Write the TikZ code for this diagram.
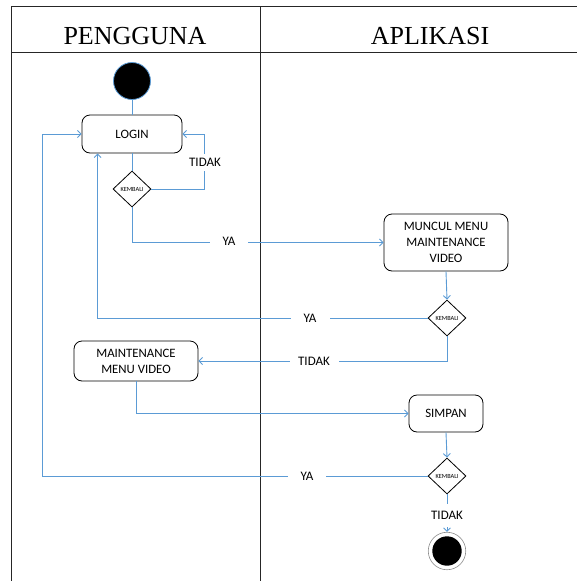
\documentclass[tikz,border=0pt]{standalone}
\usepackage{fontspec}
\setmainfont{Liberation Serif}
\newfontfamily\carlitofont{Carlito}
\usetikzlibrary{shapes.geometric,arrows.meta,calc}
\definecolor{flow}{RGB}{91,155,213}
\tikzset{
  frameline/.style={draw=black!85,line width=0.9pt},
  actbox/.style={draw=black,line width=0.8pt,rounded corners=8pt,align=center,
    font=\carlitofont\fontsize{12.8}{16}\selectfont,inner sep=0pt},
  dia/.style={diamond,draw=black,line width=0.8pt,minimum width=38pt,minimum height=36pt,inner sep=0pt},
  kembali/.style={font=\carlitofont\fontsize{6.3}{7}\selectfont,inner sep=0pt},
  flowline/.style={draw=flow,line width=0.9pt},
  flowarrow/.style={flowline,-{Straight Barb[length=3.5pt,width=7pt]}},
  lbl/.style={fill=white,font=\carlitofont\fontsize{13}{14}\selectfont,inner sep=0pt,minimum height=17pt},
  hdr/.style={font=\fontsize{26}{30}\selectfont,inner sep=0pt}
}
\begin{document}
\begin{tikzpicture}[x=1pt,y=-1pt]
\useasboundingbox (0,0) rectangle (577,581);
% frame
\draw[frameline] (11,6) -- (577,6);
\draw[frameline] (11,52) -- (577,52);
\draw[frameline] (11,6) -- (11,581);
\draw[frameline] (260,6) -- (260,581);
\node[hdr] (h1) at (135,36) {PENGGUNA};
\node[hdr] (h2) at (430,36) {APLIKASI};
% nodes
\node[circle,fill=black,draw=flow,line width=0.8pt,minimum size=37pt,inner sep=0pt] (start) at (132,81) {};
\node[actbox,minimum width=100pt,minimum height=38pt] (login) at (132,134) {LOGIN};
\node[dia] (d1) at (132,189) {};
\node[kembali] (k1) at (d1) {KEMBALI};
\node[actbox,minimum width=124pt,minimum height=57pt] (muncul) at (446,242.5) {MUNCUL MENU\\MAINTENANCE\\VIDEO};
\node[dia] (d2) at (447,318) {};
\node[kembali] (k2) at (d2) {KEMBALI};
\node[actbox,minimum width=124pt,minimum height=40pt] (maint) at (136,361) {MAINTENANCE\\MENU VIDEO};
\node[actbox,minimum width=74pt,minimum height=37pt] (simpan) at (446,413.5) {SIMPAN};
\node[dia] (d3) at (447,476) {};
\node[kembali] (k3) at (d3) {KEMBALI};
\node[circle,draw=black!45,line width=0.6pt,minimum size=37.5pt,inner sep=0pt] (end) at (447,551) {};
\fill[black] (end.center) circle (14.7pt);
% coordinates
\coordinate (c1) at ($(login.west)+(-39,0)$);
\coordinate (c2) at ($(login.south west)+(16,0)$);
\coordinate (c3) at ($(d1.east)+(53,0)$);
% connectors
\draw[flowline] (start) -- (login);
\draw[flowline] (login) -- (d1);
\draw[flowarrow] (d1.east) -- (c3) |- (login.east);
\draw[flowarrow] (d1.south) |- (muncul.west);
\draw[flowarrow] (muncul.south) -- (d2.north);
\draw[flowarrow] (d2.west) -| (c2);
\draw[flowarrow] (d2.south) |- (maint.east);
\draw[flowarrow] (maint.south) |- (simpan.west);
\draw[flowarrow] (simpan.south) -- (d3.north);
\draw[flowline] (d3.west) -| (c1);
\draw[flowarrow] (c1) -- (login.west);
\draw[flowarrow] (d3.south) -- (end.north);
% labels
\node[lbl,minimum width=36pt] (t1) at (205,162) {TIDAK};
\node[lbl,minimum width=38pt] (y1) at (229,241) {YA};
\node[lbl,minimum width=39pt] (y2) at (310,318) {YA};
\node[lbl,minimum width=49pt] (t2) at (314,361) {TIDAK};
\node[lbl,minimum width=38pt] (y3) at (307,476) {YA};
\node[lbl,minimum width=38pt,minimum height=23pt] (t3) at (447,515.5) {TIDAK};
\end{tikzpicture}
\end{document}
